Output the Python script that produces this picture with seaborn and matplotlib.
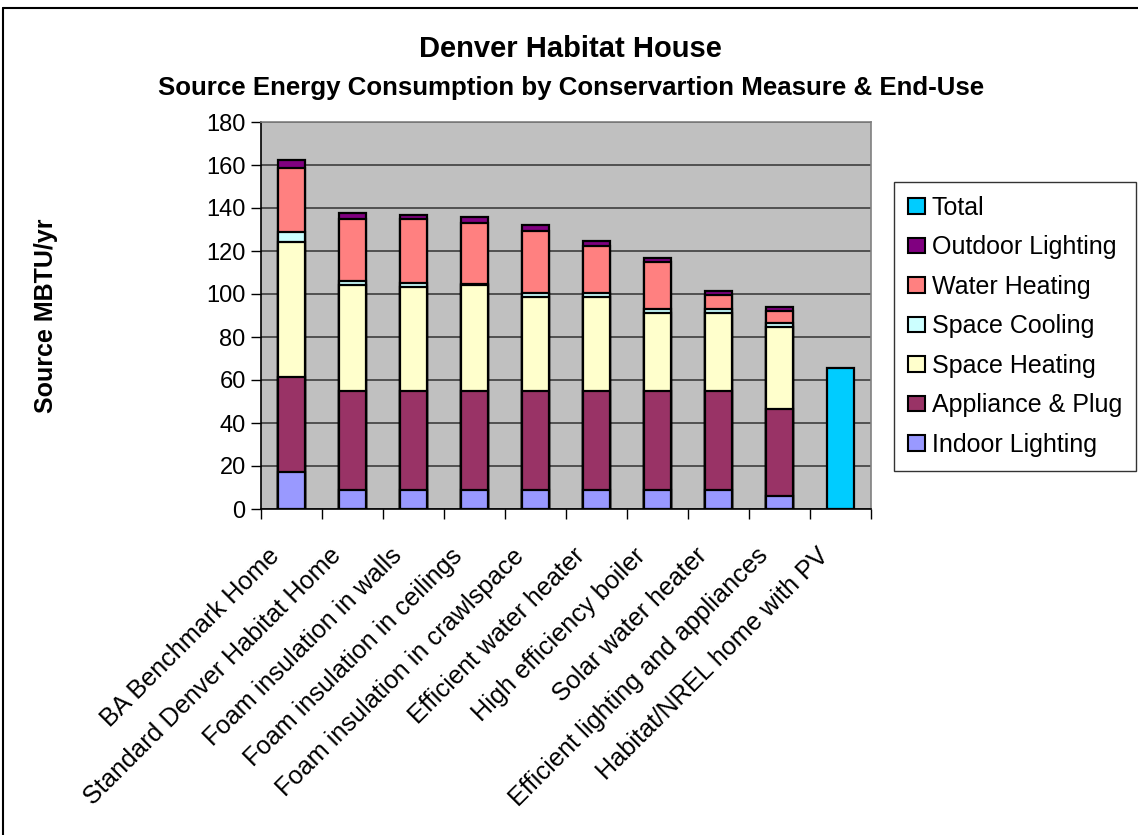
import numpy as np
import pandas as pd
import matplotlib
matplotlib.use("Agg")
import matplotlib.pyplot as plt
from matplotlib.patches import Patch
from matplotlib.lines import Line2D
from matplotlib.transforms import ScaledTranslation
import seaborn as sns

categories = [
    "BA Benchmark Home",
    "Standard Denver Habitat Home",
    "Foam insulation in walls",
    "Foam insulation in ceilings",
    "Foam insulation in crawlspace",
    "Efficient water heater",
    "High efficiency boiler",
    "Solar water heater",
    "Efficient lighting and appliances",
    "Habitat/NREL home with PV",
]
nan = np.nan
indoor_lighting = [17.0, 9.0, 9.0, 9.0, 9.0, 9.0, 9.0, 9.0, 6.2, nan]
appliance_plug = [44.5, 46.0, 46.0, 46.0, 46.0, 46.0, 46.0, 46.0, 40.3, nan]
space_heating = [62.8, 49.3, 48.4, 49.0, 43.8, 43.8, 36.0, 36.0, 38.0, nan]
space_cooling = [4.7, 1.9, 1.9, 0.8, 1.8, 1.7, 1.9, 1.9, 1.9, nan]
water_heating = [29.4, 28.7, 29.6, 28.1, 28.5, 22.0, 21.8, 6.8, 5.5, nan]
outdoor_lighting = [4.1, 2.9, 2.0, 2.9, 2.8, 2.0, 2.0, 1.9, 2.1, nan]
total = [nan, nan, nan, nan, nan, nan, nan, nan, nan, 65.6]

series_names = ["Indoor Lighting", "Appliance & Plug", "Space Heating",
                "Space Cooling", "Water Heating", "Outdoor Lighting"]
series_values = [indoor_lighting, appliance_plug, space_heating,
                 space_cooling, water_heating, outdoor_lighting]
series_colors = ["#9999FF", "#993366", "#FFFFCC", "#CCFFFF", "#FF8080", "#800080"]
total_color = "#00CCFF"

y_ticks = [0, 20, 40, 60, 80, 100, 120, 140, 160, 180]

sns.set_theme(style="white")
plt.rcParams["font.family"] = ["Liberation Sans", "DejaVu Sans"]
plt.rcParams["text.color"] = "black"
plt.rcParams["axes.labelcolor"] = "black"
plt.rcParams["xtick.color"] = "black"
plt.rcParams["ytick.color"] = "black"

fig = plt.figure(figsize=(11.38, 8.35), dpi=100)
fig.patch.set_facecolor("white")
ax = fig.add_axes([261 / 1138, 1 - 509 / 835, 610 / 1138, 387 / 835])
ax.set_facecolor("#C0C0C0")

cum = np.zeros(len(categories))
cums = []
for vals in series_values:
    cum = cum + np.array(vals, dtype=float)
    cums.append(cum.copy())

bar_w = 0.45
# draw from the tallest cumulative layer down so shorter layers overlay
for name, color, c in reversed(list(zip(series_names, series_colors, cums))):
    d = pd.DataFrame({"cat": categories, "val": c}).dropna()
    sns.barplot(data=d, x="cat", y="val", order=categories, color=color,
                width=bar_w, edgecolor="black", linewidth=1.6, saturation=1,
                ax=ax, zorder=3)
d = pd.DataFrame({"cat": categories, "val": total}).dropna()
sns.barplot(data=d, x="cat", y="val", order=categories, color=total_color,
            width=bar_w, edgecolor="black", linewidth=1.6, saturation=1,
            ax=ax, zorder=3)

ax.set_xlim(-0.5, len(categories) - 0.5)
ax.set_ylim(0, 180)
ax.set_yticks(y_ticks)
ax.set_yticklabels([str(v) for v in y_ticks], fontsize=17, color="black")
ax.yaxis.grid(True, color="#333333", linewidth=1.1, zorder=0)
ax.set_axisbelow(True)
ax.xaxis.grid(False)

ax.set_xticks(range(len(categories)))
ax.set_xticklabels(categories, rotation=45, ha="right", rotation_mode="anchor",
                   fontsize=18.2, color="black")
ax.tick_params(axis="x", which="major", length=0, pad=12)
ax.set_xticks(np.arange(-0.5, len(categories), 1.0), minor=True)
ax.tick_params(axis="x", which="minor", length=7, width=1, color="black",
               direction="out", bottom=True)
ax.tick_params(axis="y", which="major", length=7, width=1, color="black",
               direction="out", left=True, pad=4)
offset = ScaledTranslation(-0.24, -0.18, fig.dpi_scale_trans)
for tick in ax.xaxis.get_major_ticks():
    tick.label1.set_transform(tick.label1.get_transform() + offset)

ax.set_xlabel("")
ax.set_ylabel("Source MBTU/yr", fontsize=18, fontweight="bold", color="black")
ax.yaxis.set_label_coords(-0.333, 0.5)

for s in ["left", "bottom"]:
    ax.spines[s].set_color("black")
    ax.spines[s].set_linewidth(1.2)
for s in ["top", "right"]:
    ax.spines[s].set_color("#808080")
    ax.spines[s].set_linewidth(1.2)

fig.text(570 / 1138, 1 - 49 / 835, "Denver Habitat House", ha="center",
         va="center", fontsize=21, fontweight="bold", color="black")
fig.text(571 / 1138, 1 - 88 / 835,
         "Source Energy Consumption by Conservartion Measure & End-Use",
         ha="center", va="center", fontsize=18.6, fontweight="bold", color="black")

handles = [Patch(facecolor=total_color, edgecolor="black", linewidth=1.5, label="Total")]
for name, color in reversed(list(zip(series_names, series_colors))):
    handles.append(Patch(facecolor=color, edgecolor="black", linewidth=1.5, label=name))
leg = fig.legend(handles=handles, loc="upper left",
                 bbox_to_anchor=(894 / 1138, 1 - 182 / 835),
                 fontsize=18, frameon=True, fancybox=False, edgecolor="black",
                 handlelength=0.7, handleheight=0.6, handletextpad=0.25,
                 labelspacing=0.62, borderpad=0.55, borderaxespad=0,
                 labelcolor="black")
leg.get_frame().set_linewidth(1.0)

# outer chart-area border (left and top visible)
fig.add_artist(Line2D([3 / 1138, 3 / 1138], [0, 1 - 8 / 835], color="black",
                      linewidth=1.5, transform=fig.transFigure))
fig.add_artist(Line2D([3 / 1138, 1], [1 - 8 / 835, 1 - 8 / 835], color="black",
                      linewidth=1.5, transform=fig.transFigure))

fig.savefig("out.png", dpi=100)
